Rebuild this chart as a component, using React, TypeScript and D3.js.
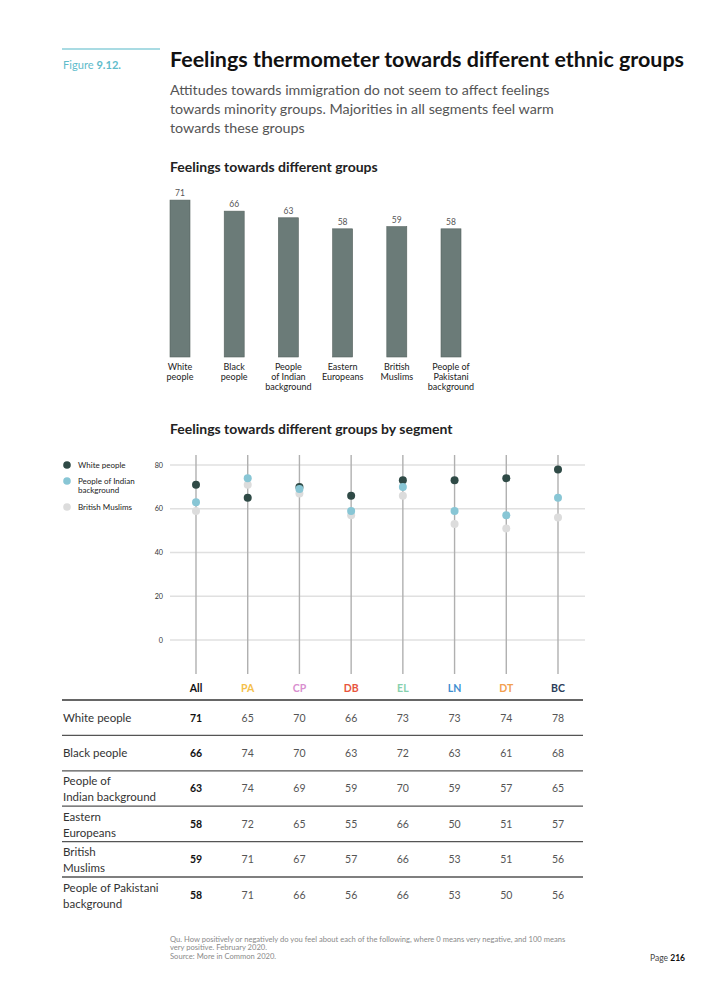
import * as d3 from "d3"
import { useEffect } from "react"

// bar chart: feelings towards groups (all respondents)
const groups = ["White people", "Black people", "People of Indian background", "Eastern Europeans", "British Muslims", "People of Pakistani background"]
const barLabels = [["White", "people"], ["Black", "people"], ["People", "of Indian", "background"], ["Eastern", "Europeans"], ["British", "Muslims"], ["People of", "Pakistani", "background"]]
const barValues = [71, 66, 63, 58, 59, 58]

// segments
const segments = ["All", "PA", "CP", "DB", "EL", "LN", "DT", "BC"]
const segmentColors = ["#111111", "#f4c04a", "#d98fcf", "#e8553e", "#86d0ad", "#3f8ed0", "#f2a04f", "#2c3d5a"]

// values per group, by segment
const whitePeople = [71, 65, 70, 66, 73, 73, 74, 78]
const blackPeople = [66, 74, 70, 63, 72, 63, 61, 68]
const indianBackground = [63, 74, 69, 59, 70, 59, 57, 65]
const easternEuropeans = [58, 72, 65, 55, 66, 50, 51, 57]
const britishMuslims = [59, 71, 67, 57, 66, 53, 51, 56]
const pakistaniBackground = [58, 71, 66, 56, 66, 53, 50, 56]

const tableRows = [
    { label: ["White people"], values: whitePeople },
    { label: ["Black people"], values: blackPeople },
    { label: ["People of", "Indian background"], values: indianBackground },
    { label: ["Eastern", "Europeans"], values: easternEuropeans },
    { label: ["British", "Muslims"], values: britishMuslims },
    { label: ["People of Pakistani", "background"], values: pakistaniBackground },
]

// dot series (draw order: grey, dark, blue)
const dotSeries = [
    { name: "British Muslims", values: britishMuslims, color: "#dcdcdc" },
    { name: "White people", values: whitePeople, color: "#2f4a46" },
    { name: "People of Indian background", values: indianBackground, color: "#88c6d5" },
]
const legendItems = [
    { label: ["White people"], color: "#2f4a46" },
    { label: ["People of Indian", "background"], color: "#88c6d5" },
    { label: ["British Muslims"], color: "#dcdcdc" },
]
const yTicks = [0, 20, 40, 60, 80]

const footnote = [
    "Qu. How positively or negatively do you feel about each of the following, where 0 means very negative, and 100 means",
    "very positive. February 2020.",
    "Source: More in Common 2020.",
]

const FONT = "Lato, 'Open Sans', sans-serif"

export default function App() {
    useEffect(() => {
        document.body.style.margin = "0"
    }, [])

    const W = 720
    const H = 1008

    // bar chart scales
    const xBar = d3.scalePoint<string>().domain(groups).range([180, 451])
    const yBar = d3.scaleLinear().domain([0, 100]).range([357, 136])
    const barW = 20

    // dot plot scales
    const xSeg = d3.scalePoint<string>().domain(segments).range([196, 558])
    const yDot = d3.scaleLinear().domain([0, 80]).range([640, 465])

    const tableTop = 700
    const rowH = 35.4

    return (
        <svg width={W} height={H} style={{ display: "block", background: "#fff" }} fontFamily={FONT}>
            {/* header */}
            <line x1={62} x2={160} y1={49} y2={49} stroke="#a9dbe3" strokeWidth={2} />
            <text x={63} y={69} fontSize={11} fill="#5fbccb" textLength={58} lengthAdjust="spacingAndGlyphs">
                Figure <tspan fontWeight={700}>9.12.</tspan>
            </text>
            <text x={170} y={67} fontSize={21} fontWeight={700} fill="#111" textLength={514} lengthAdjust="spacingAndGlyphs">
                Feelings thermometer towards different ethnic groups
            </text>
            {["Attitudes towards immigration do not seem to affect feelings", "towards minority groups. Majorities in all segments feel warm", "towards these groups"].map((t, i) => (
                <text key={i} x={170} y={95 + i * 19} fontSize={14.3} fill="#555">{t}</text>
            ))}

            {/* bar chart */}
            <text x={170} y={172} fontSize={14} fontWeight={700} fill="#222">Feelings towards different groups</text>
            {groups.map((g, i) => (
                <g key={g}>
                    <rect x={xBar(g)! - barW / 2} y={yBar(barValues[i])} width={barW} height={yBar(0) - yBar(barValues[i])} fill="#6b7b78" stroke="#56635f" strokeWidth={0.6} />
                    <text x={xBar(g)} y={yBar(barValues[i]) - 4} fontSize={8.5} textAnchor="middle" fill="#555">{barValues[i]}</text>
                    {barLabels[i].map((l, j) => (
                        <text key={j} x={xBar(g)} y={370 + j * 9.8} fontSize={9} textAnchor="middle" fill="#222">{l}</text>
                    ))}
                </g>
            ))}

            {/* dot plot */}
            <text x={170} y={434} fontSize={14} fontWeight={700} fill="#222">Feelings towards different groups by segment</text>
            {legendItems.map((it, i) => {
                const y = [465, 481, 507][i]
                return (
                    <g key={i}>
                        <circle cx={67} cy={y} r={3.8} fill={it.color} />
                        {it.label.map((l, j) => (
                            <text key={j} x={78} y={y + 2.8 + j * 9.5} fontSize={8} fill="#222">{l}</text>
                        ))}
                    </g>
                )
            })}
            {yTicks.map((t) => (
                <g key={t}>
                    <line x1={170} x2={585} y1={yDot(t)} y2={yDot(t)} stroke="#e0e0e0" strokeWidth={1.3} />
                    <text x={163} y={yDot(t) + 2.5} fontSize={7.2} textAnchor="end" fill="#333">{t}</text>
                </g>
            ))}
            {segments.map((s) => (
                <line key={s} x1={xSeg(s)} x2={xSeg(s)} y1={455} y2={674} stroke="#b0b0b0" strokeWidth={1.4} />
            ))}
            {dotSeries.map((ser) => (
                <g key={ser.name}>
                    {ser.values.map((v, i) => (
                        <circle key={i} cx={xSeg(segments[i])} cy={yDot(v)} r={4} fill={ser.color} />
                    ))}
                </g>
            ))}

            {/* table */}
            {segments.map((s, i) => (
                <text key={s} x={xSeg(s)} y={692} fontSize={10.5} fontWeight={700} textAnchor="middle" fill={segmentColors[i]}>{s}</text>
            ))}
            {tableRows.map((row, r) => {
                const lineY = tableTop + r * rowH
                const cy = lineY + 17.5
                return (
                    <g key={r}>
                        <line x1={62} x2={583} y1={lineY} y2={lineY} stroke={r === 0 ? "#333" : "#555"} strokeWidth={r === 0 ? 1.6 : 1.3} />
                        {row.label.length === 1 ? (
                            <text x={63} y={cy + 4} fontSize={11.5} fill="#333">{row.label[0]}</text>
                        ) : (
                            row.label.map((l, j) => (
                                <text key={j} x={63} y={cy - 3 + j * 16} fontSize={11.5} fill="#333">{l}</text>
                            ))
                        )}
                        {row.values.map((v, i) => (
                            <text key={i} x={xSeg(segments[i])} y={cy + 4} fontSize={10.5} textAnchor="middle"
                                fontWeight={i === 0 ? 700 : 400} fill={i === 0 ? "#111" : "#555"}>{v}</text>
                        ))}
                    </g>
                )
            })}

            {/* footnote */}
            {footnote.map((t, i) => (
                <text key={i} x={170} y={942 + i * 8.3} fontSize={7.6} fill="#8a8a8a">{t}</text>
            ))}
            <text x={650} y={961} fontSize={8.5} fill="#444">
                Page <tspan fontWeight={700} fill="#111">216</tspan>
            </text>
        </svg>
    )
}
